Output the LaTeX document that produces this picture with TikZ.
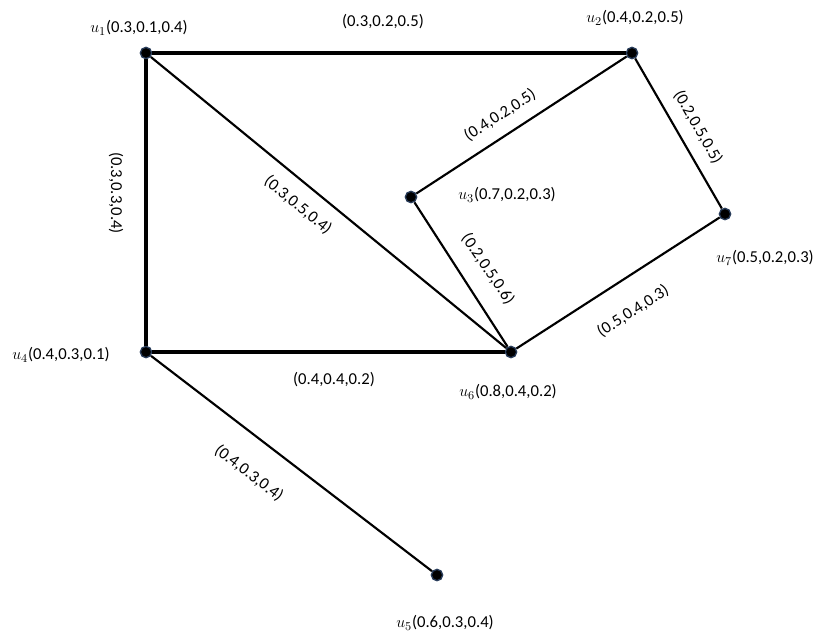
\documentclass[tikz,border=0pt]{standalone}
\usepackage{fontspec}
\setmainfont{Carlito}
\begin{document}
\begin{tikzpicture}[x=0.75pt,y=-0.75pt,
  vtx/.style={circle,fill=black,draw={rgb,255:red,40;green,60;blue,90},line width=1pt,inner sep=0pt,minimum size=8.5pt},
  thickedge/.style={line width=2.4pt},
  thinedge/.style={line width=1.6pt},
  lbl/.style={font=\fontsize{12.5}{14}\selectfont,inner sep=0pt}]
\useasboundingbox (0,0) rectangle (816,633);
\node[vtx] (u1) at (146,53) {};
\node[vtx] (u2) at (632,53) {};
\node[vtx] (u3) at (411,197) {};
\node[vtx] (u7) at (725,214) {};
\node[vtx] (u4) at (146,352) {};
\node[vtx] (u6) at (511,352) {};
\node[vtx] (u5) at (437,575) {};
\draw[thickedge] (u1) -- (u2);
\draw[thickedge] (u1) -- (u4);
\draw[thickedge] (u4) -- (u6);
\draw[thinedge] (u1) -- (u6);
\draw[thinedge] (u2) -- (u3);
\draw[thinedge] (u2) -- (u7);
\draw[thinedge] (u3) -- (u6);
\draw[thinedge] (u6) -- (u7);
\draw[thinedge] (u4) -- (u5);
\node[lbl] (l1) at (139,28) {$u_1$(0.3,0.1,0.4)};
\node[lbl] (l2) at (635,18) {$u_2$(0.4,0.2,0.5)};
\node[lbl] (l3) at (507,195) {$u_3$(0.7,0.2,0.3)};
\node[lbl] (l7) at (765,258) {$u_7$(0.5,0.2,0.3)};
\node[lbl] (l4) at (61,355) {$u_4$(0.4,0.3,0.1)};
\node[lbl] (l6) at (508,392) {$u_6$(0.8,0.4,0.2)};
\node[lbl] (l5) at (445,623) {$u_5$(0.6,0.3,0.4)};
\node[lbl] (e12) at (383,22) {(0.3,0.2,0.5)};
\node[lbl,rotate=-90] (e14) at (116,193) {(0.3,0.3,0.4)};
\node[lbl,rotate=-39.3] (e16) at (298,205) {(0.3,0.5,0.4)};
\node[lbl,rotate=33] (e23) at (500,115) {(0.4,0.2,0.5)};
\node[lbl,rotate=-60] (e27) at (698,127) {(0.2,0.5,0.5)};
\node[lbl,rotate=-56] (e36) at (488,269) {(0.2,0.5,0.6)};
\node[lbl,rotate=33] (e67) at (633,311) {(0.5,0.4,0.3)};
\node[lbl] (e46) at (334,380) {(0.4,0.4,0.2)};
\node[lbl,rotate=-37.5] (e45) at (249,473) {(0.4,0.3,0.4)};
\end{tikzpicture}
\end{document}
